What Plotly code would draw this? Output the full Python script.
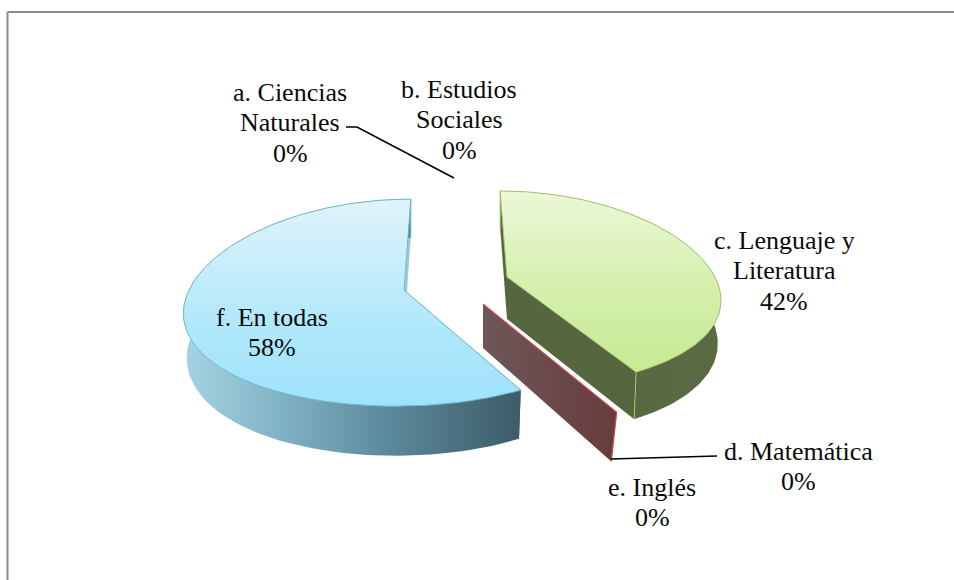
import numpy as np
import plotly.graph_objects as go

# ---- data ----
labels = [["a. Ciencias", "Naturales"], ["b. Estudios", "Sociales"], ["c. Lenguaje y", "Literatura"],
          ["d. Matemática"], ["e. Inglés"], ["f. En todas"]]
values = [0, 0, 42, 0, 0, 58]

# ---- projection of each exploded wedge onto the page (pixel axes) ----
GREEN = dict(cx=507, cy=277, rx=208, ry=96.7, kx=0.2, ky=0.124, s=0.08, h=42, shrink=0.985)
BLUE = dict(cx=404, cy=290, rx=215, ry=102, kx=0.19, ky=0.122, s=-0.075, h=43.5, shrink=0.985)
SLAB = dict(cx=483, cy=304, rx=214, ry=110, kx=0.2, ky=0.124, s=0.08, h=44, shrink=0.96)


def proj(p, theta, r=1.0, bottom=False):
    """theta in degrees, clockwise from 12 o'clock."""
    t = np.radians(theta)
    u, v = r * np.sin(t), r * np.cos(t)
    x = p["rx"] * u / (1 + p["kx"] * v)
    y = -p["ry"] * v / (1 + p["ky"] * v)
    x = x + p["s"] * y
    dz = 0.0
    if bottom:
        x = x * p["shrink"]
        dz = p["h"] / (1 + p["ky"] * v)
    return p["cx"] + x, p["cy"] + y + dz


total = sum(values)
cum = np.cumsum(values) / total * 360
green_start, green_end = cum[1], cum[2]
blue_start, blue_end = cum[4], cum[5]

fig = go.Figure()


def poly(x, y, fill=None, grad=None, line=None, lw=1):
    kw = dict(x=list(x), y=list(y), mode="lines", fill="toself", hoverinfo="skip", showlegend=False,
              line=dict(color=line or "rgba(0,0,0,0)", width=lw if line else 0))
    if grad:
        kw["fillgradient"] = grad
    else:
        kw["fillcolor"] = fill
    fig.add_trace(go.Scatter(**kw))


def wedge(p, a, b, top_grad, side_grad, cut_a, cut_b, edge, lw=1):
    for th, col in ((a, cut_a), (b, cut_b)):
        x0, y0 = proj(p, th, 0)
        x1, y1 = proj(p, th)
        x2, y2 = proj(p, th, bottom=True)
        x3, y3 = proj(p, th, 0, bottom=True)
        poly([x0, x1, x2, x3, x0], [y0, y1, y2, y3, y0], fill=col)
    th = np.linspace(a, b, 120)
    xt, yt = proj(p, th)
    xb, yb = proj(p, th, bottom=True)
    poly(np.r_[xt, xb[::-1], xt[0]], np.r_[yt, yb[::-1], yt[0]], grad=side_grad)
    xa, ya = proj(p, a, 0)
    poly(np.r_[xa, xt, xa], np.r_[ya, yt, ya], grad=top_grad, line=edge, lw=lw)


blue_top = dict(type="vertical", colorscale=[[0, "#9ee3fb"], [0.35, "#aee7fb"], [1, "#e0f3fa"]])
blue_side = dict(type="horizontal", colorscale=[[0, "#a6d3e2"], [0.3, "#7fb1c4"], [0.6, "#5c8a9c"], [1, "#3e5b68"]])
green_top = dict(type="vertical", colorscale=[[0, "#c6ea92"], [0.5, "#d6f0ae"], [1, "#ebf8d8"]])
green_side = dict(type="horizontal", colorscale=[[0, "#56663f"], [1, "#5a6a42"]])
slab_grad = dict(type="horizontal", colorscale=[[0, "#6e5759"], [1, "#693c3d"]])

# zero-value slices collapse to a single slab between c and f
x0, y0 = proj(SLAB, green_end, 0)
x1, y1 = proj(SLAB, green_end)
x2, y2 = proj(SLAB, green_end, bottom=True)
x3, y3 = proj(SLAB, green_end, 0, bottom=True)
poly([x0, x1, x2, x3, x0], [y0, y1, y2, y3, y0], grad=slab_grad)
fig.add_trace(go.Scatter(x=[x0, x1, x2], y=[y0, y1, y2], mode="lines", hoverinfo="skip",
                         showlegend=False, line=dict(color="#c9504f", width=1.2)))

wedge(BLUE, blue_start, blue_end, blue_top, blue_side, "#3f5f6c", "#9fc7d4", "#6db7cb")
wedge(GREEN, green_start, green_end, green_top, green_side, "#56663f", "#56663f", "#a6c46d")

for p, th, col in ((GREEN, green_end, "#a6c46d"), (GREEN, green_start, "#a6c46d"), (BLUE, blue_end, "#6db7cb")):
    a, b = proj(p, th), proj(p, th, bottom=True)
    fig.add_trace(go.Scatter(x=[a[0], b[0]], y=[a[1], b[1]], mode="lines", hoverinfo="skip",
                             showlegend=False, line=dict(color=col, width=1)))

# leader lines
leader_a = ([346, 357, 454], [127, 127, 178])
leader_d = ([611, 717], [459, 456])
for lx, ly in (leader_a, leader_d):
    fig.add_trace(go.Scatter(x=lx, y=ly, mode="lines", hoverinfo="skip", showlegend=False,
                             line=dict(color="black", width=1.6)))

# data labels, one line at a time for the tight leading
label_x = [290, 459, 784, 798, 652, 272]
label_top = [92, 89, 240, 451, 487, 317]
LEADING = 30.5
for lines, val, lx, ly in zip(labels, values, label_x, label_top):
    for i, t in enumerate(lines + [f"{val}%"]):
        fig.add_annotation(x=lx, y=ly + i * LEADING, text=t, showarrow=False, align="center",
                           font=dict(family="Liberation Serif", size=26, color="#0a0a0a"))

frame_line = dict(color="#8a8a8a", width=2)
fig.update_layout(
    width=954, height=580, autosize=False,
    margin=dict(l=0, r=0, t=0, b=0),
    paper_bgcolor="white", plot_bgcolor="white",
    xaxis=dict(range=[0, 954], visible=False, fixedrange=True),
    yaxis=dict(range=[580, 0], visible=False, fixedrange=True),
    shapes=[dict(type="line", xref="x", yref="y", x0=7.5, y0=12, x1=954, y1=12, line=frame_line, layer="below"),
            dict(type="line", xref="x", yref="y", x0=7.5, y0=12, x1=7.5, y1=580, line=frame_line, layer="below")],
)
fig.write_html("out.html", config=dict(displayModeBar=False),
               post_script="document.body.style.margin='0';")
